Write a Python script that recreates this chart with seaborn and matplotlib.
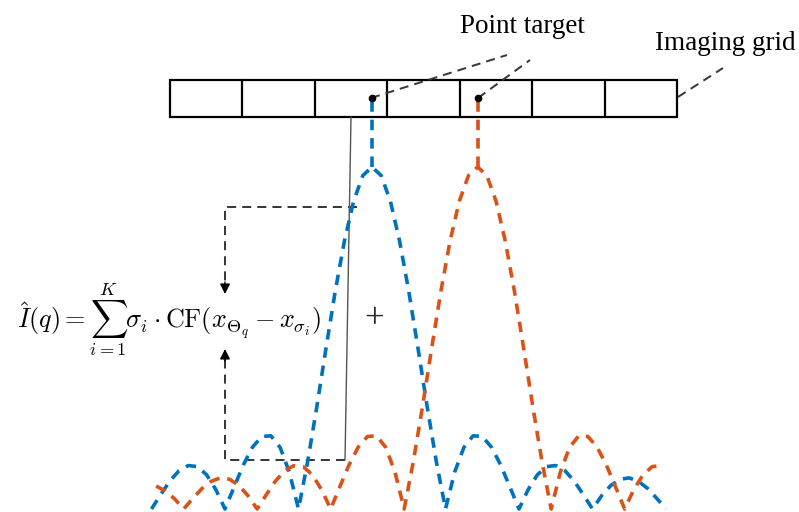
import numpy as np
import pandas as pd
import matplotlib
matplotlib.use("Agg")
import matplotlib.pyplot as plt
from matplotlib.patches import Rectangle
import seaborn as sns

# ---------------- data ----------------
# Point-spread (CF) response, one side, step 1/8 cell
PROFILE_STEP = 0.125
CF_PROFILE = [1.000, 0.975, 0.900, 0.784, 0.637, 0.471, 0.300, 0.139, 0.000,
              0.108, 0.180, 0.214, 0.212, 0.181, 0.129, 0.065, 0.000,
              0.057, 0.100, 0.124, 0.127, 0.112, 0.082, 0.042, 0.000,
              0.039, 0.069, 0.087, 0.091, 0.081, 0.060, 0.031, 0.000,
              0.030, 0.053, 0.067, 0.071]
target_names = ["target 1", "target 2"]
target_centers = [0.0, 1.4375]          # positions in cell units
target_colors = ["#0072BD", "#D95319"]
x_range = [-3.0, 4.0]
n_cells = 7
label_point = "Point target"
label_grid = "Imaging grid"
formula = (r"$\hat{I}(q)=\sum_{i=1}^{K}\sigma_{i}\cdot\mathrm{CF}"
           r"(x_{\Theta_{q}}-x_{\sigma_{i}})$")

# ---------------- build curve table ----------------
half = np.array(CF_PROFILE)
n = len(half)
u = np.arange(-(n - 1), n) * PROFILE_STEP
prof = np.concatenate([half[::-1], half[1:]])
rows = []
for name, c in zip(target_names, target_centers):
    xs = c + u
    m = (xs >= x_range[0] - 1e-9) & (xs <= x_range[1] + 1e-9)
    rows.append(pd.DataFrame({"x": xs[m], "amp": prof[m], "target": name}))
df = pd.concat(rows, ignore_index=True)

# ---------------- figure ----------------
sns.set_style("white")
W, H = 799, 512
fig = plt.figure(figsize=(W / 100, H / 100), dpi=100)

# annotation layer in pixel coordinates
ov = fig.add_axes([0, 0, 1, 1])
ov.set_xlim(0, W)
ov.set_ylim(H, 0)
ov.axis("off")

# curve axes: x in cell units, y in normalised amplitude
x0_px, unit_px = 372.0, 73.5
y0_px, y1_px = 509.0, 167.0
left = (x0_px + x_range[0] * unit_px) / W
width = (x_range[1] - x_range[0]) * unit_px / W
ax = fig.add_axes([left, (H - y0_px) / H, width, (y0_px - y1_px) / H])
ax.set_xlim(*x_range)
ax.set_ylim(0, 1)
ax.axis("off")
ax.patch.set_alpha(0)

dash = (0, (2.9, 2.2))
for name, col in zip(target_names, target_colors):
    sub = df[df["target"] == name]
    sns.lineplot(data=sub, x="x", y="amp", ax=ax, color=col, lw=2.6,
                 linestyle=dash, clip_on=False, legend=False, sort=False)

# stems from grid dots down to peaks
dot_y = (y0_px - 98) / (y0_px - y1_px)
for c, col in zip(target_centers, target_colors):
    ax.plot([c, c], [1.0, dot_y], color=col, lw=2.6, linestyle=dash,
            clip_on=False)
    ax.plot([c], [dot_y], "o", color="black", ms=4.5, clip_on=False, zorder=5)

# imaging grid
gx0, gx1, gy0, gy1 = 170, 677, 80, 117
cw = (gx1 - gx0) / n_cells
ov.add_patch(Rectangle((gx0, gy0), gx1 - gx0, gy1 - gy0, fill=False,
                       ec="black", lw=1.6))
for k in range(1, n_cells):
    ov.plot([gx0 + k * cw] * 2, [gy0, gy1], color="black", lw=1.6)

gray = "#3a3a3a"
gdash = (0, (4.5, 3))
# leader lines
ov.plot([371, 507], [98, 55], color=gray, lw=1.45, linestyle=gdash)
ov.plot([478, 530], [98, 60], color=gray, lw=1.45, linestyle=gdash)
ov.plot([678, 723], [97, 68], color=gray, lw=1.45, linestyle=gdash)

# bracket / arrows
ov.plot([357, 225, 225], [207, 207, 284], color=gray, lw=1.45, linestyle=gdash)
ov.plot([345, 225, 225], [460, 460, 359], color=gray, lw=1.45, linestyle=gdash)
ov.plot([351, 345], [117, 460], color="#555555", lw=1.0)
ov.annotate("", xy=(225, 294), xytext=(225, 282),
            arrowprops=dict(arrowstyle="-|>", color="black", lw=1,
                            mutation_scale=15, shrinkA=0, shrinkB=0))
ov.annotate("", xy=(225, 349), xytext=(225, 361),
            arrowprops=dict(arrowstyle="-|>", color="black", lw=1,
                            mutation_scale=15, shrinkA=0, shrinkB=0))

# texts
serif = "Liberation Serif"
ov.text(460, 33, label_point, fontsize=19.5, family=serif, ha="left",
        va="baseline", color="black")
ov.text(655, 50, label_grid, fontsize=19.5, family=serif, ha="left",
        va="baseline", color="black")
plt.rcParams["mathtext.fontset"] = "cm"
ov.text(17, 319, formula, fontsize=18.8, ha="left", va="center", color="black")
ov.text(374, 320, "+", fontsize=25, family=serif, ha="center", va="center")

fig.savefig("out.png", dpi=100)
